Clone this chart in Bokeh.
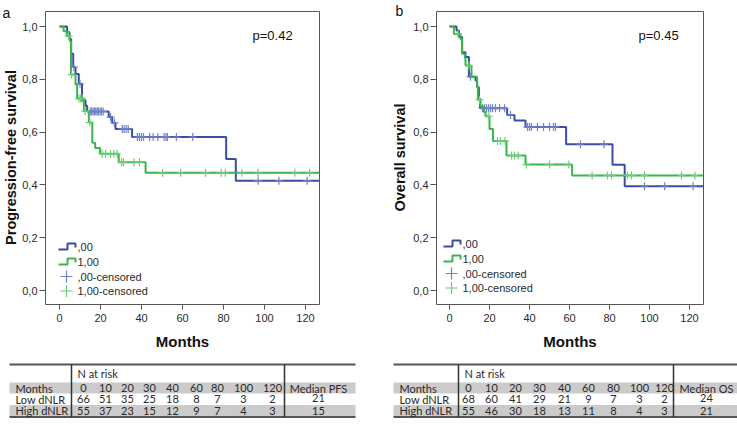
import numpy as np
from bokeh.plotting import figure
from bokeh.layouts import row, column
from bokeh.models import Range1d, FixedTicker, Label
from bokeh.core.properties import value
from bokeh.embed import file_html
from bokeh.resources import INLINE

# ---------------- data ----------------
# Panel a: progression-free survival (Kaplan-Meier steps)
pfs_low_t = [0, 3.7, 4.9, 5.7, 6.7, 7.8, 9.4, 11.0, 12.7, 13.5, 24.0, 25.7, 27.3, 35.4, 81.3, 86.0]
pfs_low_s = [1.0, 0.978, 0.953, 0.897, 0.846, 0.82, 0.783, 0.72, 0.70, 0.678, 0.657, 0.635, 0.612, 0.581, 0.498, 0.416]
pfs_low_cens = [7.0, 10.0, 15.0, 15.7, 16.4, 17.0, 17.7, 18.4, 19.0, 19.8, 20.5, 21.3, 24.9, 26.8,
                30.6, 31.5, 32.5, 33.5, 38.0, 39.0, 40.0, 41.0, 44.0, 45.7, 48.0, 51.0, 52.0, 52.6,
                57.0, 65.0, 96.9, 107.0, 120.8]
pfs_low_end = 127

pfs_high_t = [0, 2.0, 3.5, 5.0, 5.6, 7.8, 8.6, 11.9, 14.3, 16.0, 17.4, 19.8, 28.9, 42.0]
pfs_high_s = [1.0, 0.982, 0.964, 0.945, 0.818, 0.78, 0.727, 0.68, 0.636, 0.56, 0.54, 0.518, 0.486, 0.446]
pfs_high_cens = [4.5, 5.9, 9.5, 10.3, 11.0, 12.5, 14.8, 20.8, 22.5, 24.9, 26.5, 28.1, 30.3, 31.2,
                 36.3, 39.0, 50.3, 59.1, 71.2, 78.9, 80.9, 89.0, 96.9, 114.8, 122.0]
pfs_high_end = 127

# Panel b: overall survival
os_low_t = [0, 3.5, 4.7, 6.3, 8.0, 9.7, 13.0, 13.8, 14.7, 15.3, 28.8, 32.5, 38.0, 58.3, 81.5, 87.6]
os_low_s = [1.0, 0.985, 0.96, 0.902, 0.884, 0.81, 0.795, 0.77, 0.726, 0.69, 0.665, 0.644, 0.619, 0.554, 0.476, 0.395]
os_low_cens = [10.5, 16.5, 17.5, 18.5, 19.5, 20.5, 21.5, 23.0, 25.0, 27.5, 30.5, 39.0, 40.0, 41.0,
               44.0, 47.0, 50.0, 52.0, 53.0, 65.5, 77.2, 97.5, 107.6, 121.8]
os_low_end = 127

os_high_t = [0, 2.2, 5.5, 6.3, 7.7, 8.0, 11.0, 13.8, 14.2, 15.5, 17.2, 18.0, 20.0, 21.7, 28.5, 38.0, 61.3]
os_high_s = [1.0, 0.972, 0.953, 0.897, 0.88, 0.852, 0.81, 0.773, 0.723, 0.697, 0.676, 0.66, 0.612, 0.566, 0.511, 0.477, 0.436]
os_high_cens = [4.3, 9.7, 15.0, 19.7, 24.0, 25.5, 27.8, 31.0, 32.5, 34.3, 38.5, 50.0, 59.7, 71.3,
                79.0, 81.0, 89.0, 91.0, 97.5, 116.0, 122.7]
os_high_end = 127

month_ticks = [0, 20, 40, 60, 80, 100, 120]
surv_ticks = [0.0, 0.2, 0.4, 0.6, 0.8, 1.0]
surv_tick_labels = ["0,0", "0,2", "0,4", "0,6", "0,8", "1,0"]

legend_labels = [",00", "1,00", ",00-censored", "1,00-censored"]

risk_months = ["0", "10", "20", "30", "40", "60", "80", "100", "120"]
pfs_risk_low = [66, 51, 35, 25, 18, 8, 7, 3, 2]
pfs_risk_high = [55, 37, 23, 15, 12, 9, 7, 4, 3]
os_risk_low = [68, 60, 41, 29, 21, 9, 7, 3, 2]
os_risk_high = [55, 46, 30, 18, 13, 11, 8, 4, 3]
row_labels = ["Months", "Low dNLR", "High dNLR"]
pfs_median = ["21", "15"]
os_median = ["24", "21"]

# ---------------- style ----------------
BLUE = "#3a4da6"
GREEN = "#3bb44a"
BLUE_C = "#6f80cc"
GREEN_C = "#6fcc7a"
AX_FONT = "Liberation Sans"
TAB_FONT = "Lato"
TXT = "#2a2a2a"
KM_H = 356  # height of the survival-curve figures (page pixels)


def side_panel(cfg):
    """Narrow strip left of a panel holding the panel letter and the rotated y title."""
    x_start, x_end = cfg["side"]
    p = figure(width=x_end - x_start, height=KM_H, x_range=Range1d(x_start, x_end),
               y_range=Range1d(KM_H, 0), output_backend="svg", toolbar_location=None,
               x_axis_location=None, y_axis_location=None, min_border=0)
    p.xgrid.visible = False
    p.ygrid.visible = False
    p.outline_line_color = None
    lx, ly = cfg["letter_pos"]
    p.text([lx], [ly], text=[cfg["letter"]], text_font=value(AX_FONT), text_font_size="14px",
           text_baseline="middle", text_align="left", text_color="#111111")
    tx, ty = cfg["ylabel_pos"]
    p.text([tx], [ty], text=[cfg["ylabel"]], angle=np.pi / 2, text_font=value(AX_FONT),
           text_font_size="14.5px", text_font_style="bold", text_baseline="middle",
           text_align="center", text_color="#111111")
    return p


def km_panel(cfg):
    FL, FR, FT, FB = cfg["frame"]
    x0, xs, y0, ys = cfg["x0"], cfg["xs"], cfg["y0"], cfg["ys"]
    win_left = cfg["side"][1]
    p = figure(width=cfg["win_right"] - win_left, height=KM_H,
               x_range=Range1d((FL - x0) / xs, (FR - x0) / xs),
               y_range=Range1d((y0 - FB) / ys, (y0 - FT) / ys),
               output_backend="svg", toolbar_location=None,
               min_border_left=FL - win_left, min_border_right=cfg["win_right"] - FR,
               min_border_top=FT, min_border_bottom=KM_H - FB)
    p.xgrid.visible = False
    p.ygrid.visible = False
    p.outline_line_color = "#555555"
    p.outline_line_width = 1
    p.background_fill_color = "white"
    p.border_fill_color = "white"

    for ax in (p.xaxis, p.yaxis):
        ax.axis_line_color = None
        ax.major_tick_in = 0
        ax.minor_tick_line_color = None
        ax.major_tick_line_color = "#555555"
        ax.major_label_text_font = AX_FONT
        ax.major_label_text_font_size = "11px"
        ax.major_label_text_color = TXT
        ax.axis_label_text_font = AX_FONT
        ax.axis_label_text_font_style = "bold"
        ax.axis_label_text_color = "#111111"
    p.xaxis.ticker = FixedTicker(ticks=month_ticks)
    p.xaxis.major_tick_out = 5
    p.xaxis.major_label_standoff = 4
    p.xaxis.axis_label = "Months"
    p.xaxis.axis_label_text_font_size = "15px"
    p.xaxis.axis_label_standoff = 8
    p.yaxis.ticker = FixedTicker(ticks=surv_ticks)
    p.yaxis.major_label_overrides = dict(zip(surv_ticks, surv_tick_labels))
    p.yaxis.major_tick_out = 6
    p.yaxis.major_label_standoff = 2

    # curves
    for (t, s, cens, end, col, ccol) in cfg["series"]:
        xx = list(t) + [end]
        yy = list(s) + [s[-1]]
        p.step(xx, yy, mode="after", line_color=col, line_width=2)
        ta = np.asarray(t)
        sa = np.asarray(s)
        idx = np.searchsorted(ta, np.asarray(cens), side="right") - 1
        p.scatter(cens, sa[idx], marker="cross", size=8, line_color=ccol, line_width=1.2)

    def d(xp, yp):
        return (xp - x0) / xs, (y0 - yp) / ys

    # legend (drawn inside frame)
    lx, rows = cfg["legend_x"], cfg["legend_rows"]
    for i, col in enumerate([BLUE, GREEN]):
        yb = rows[i] + 2.5
        pts = [(lx, yb), (lx + 9, yb), (lx + 9, yb - 6), (lx + 17, yb - 6), (lx + 17, yb - 2)]
        px_ = [d(a, b)[0] for a, b in pts]
        py_ = [d(a, b)[1] for a, b in pts]
        p.line(px_, py_, line_color=col, line_width=2)
    for i, col in enumerate([BLUE_C, GREEN_C]):
        cx, cy = d(lx + 8, rows[2 + i])
        p.scatter([cx], [cy], marker="cross", size=12, line_color=col, line_width=1.2)
    tx = [d(lx + 19, r)[0] for r in rows]
    ty = [d(lx + 19, r)[1] for r in rows]
    p.text(tx, ty, text=legend_labels, text_font=value(AX_FONT), text_font_size="11px",
           text_baseline="middle", text_align="left", text_color=TXT)

    # p-value
    px, py = d(cfg["p_pos"][0], cfg["p_pos"][1])
    p.add_layout(Label(x=px, y=py, text=cfg["ptext"], text_font=AX_FONT, text_font_size="13px",
                       text_baseline="middle", text_align="left", text_color="#111111"))
    return p


def table_panel(cfgs, data):
    p = figure(width=737, height=425 - KM_H, x_range=Range1d(0, 737),
               y_range=Range1d(425, KM_H), output_backend="svg", toolbar_location=None,
               x_axis_location=None, y_axis_location=None, min_border=0)
    p.xgrid.visible = False
    p.ygrid.visible = False
    p.outline_line_color = None
    tf = dict(text_font=value(TAB_FONT), text_font_size="11px", text_baseline="middle", text_color=TXT)
    rows_y = [387.5, 398.8, 410.2]
    for cfg, (low, high, med_label, med) in zip(cfgs, data):
        L, R = cfg["left"], cfg["right"]
        p.quad(left=[L, L], right=[R, R], top=[382, 404.5], bottom=[393, 416],
               fill_color="#cbcbcb", line_color=None)
        p.segment(x0=[L, L], x1=[R, R], y0=[364, 416.5], y1=[364, 416.5],
                  line_color="#555555", line_width=2)
        p.segment(x0=[cfg["div1"], cfg["div2"]], x1=[cfg["div1"], cfg["div2"]], y0=[364, 364],
                  y1=[416.5, 416.5], line_color="#333333", line_width=1.5)
        p.text([L + 6] * 3, rows_y, text=row_labels, text_align="left", **tf)
        p.text([cfg["div1"] + 6], [372.5], text=["N at risk"], text_align="left", **tf)
        cols = cfg["cols"]
        p.text(cols, [rows_y[0]] * len(cols), text=risk_months, text_align="center", **tf)
        p.text(cols, [rows_y[1]] * len(cols), text=[str(v) for v in low], text_align="center", **tf)
        p.text(cols, [rows_y[2]] * len(cols), text=[str(v) for v in high], text_align="center", **tf)
        mc = cfg["med"]
        p.text([mc], [rows_y[0]], text=[med_label], text_align="center", **tf)
        p.text([mc, mc], [rows_y[1] - 1, rows_y[2]], text=med, text_align="center", **tf)
    return p


cfgA = dict(side=(0, 19), win_right=370, frame=(45, 319, 11, 304),
            x0=59, xs=2.05, y0=290, ys=264, ylabel="Progression-free survival",
            ylabel_pos=(10, 157),
            series=[(pfs_low_t, pfs_low_s, pfs_low_cens, pfs_low_end, BLUE, BLUE_C),
                    (pfs_high_t, pfs_high_s, pfs_high_cens, pfs_high_end, GREEN, GREEN_C)],
            legend_x=58, legend_rows=[246.5, 261.5, 276, 290.5],
            ptext="p=0.42", p_pos=(252, 35), letter="a", letter_pos=(2, 12))
cfgB = dict(side=(370, 410), win_right=737, frame=(436, 703, 11, 304),
            x0=449, xs=2.0, y0=290, ys=264, ylabel="Overall survival",
            ylabel_pos=(399, 157),
            series=[(os_low_t, os_low_s, os_low_cens, os_low_end, BLUE, BLUE_C),
                    (os_high_t, os_high_s, os_high_cens, os_high_end, GREEN, GREEN_C)],
            legend_x=443, legend_rows=[243.5, 258.5, 273, 287.5],
            ptext="p=0.45", p_pos=(638, 35), letter="b", letter_pos=(395, 10))

tabA = dict(left=9, right=355, div1=71, div2=284,
            cols=[83, 105, 127, 149, 172, 196, 217, 243, 272], med=318)
tabB = dict(left=393, right=737, div1=458, div2=673,
            cols=[468, 491, 515, 539, 564, 588, 613, 639, 664], med=706)

sideA = side_panel(cfgA)
kmA = km_panel(cfgA)
sideB = side_panel(cfgB)
kmB = km_panel(cfgB)
tables = table_panel([tabA, tabB],
                     [(pfs_risk_low, pfs_risk_high, "Median PFS", pfs_median),
                      (os_risk_low, os_risk_high, "Median OS", os_median)])

layout = column(row(column(sideA), kmA, column(sideB), kmB, spacing=0), tables, spacing=0)

with open("out.html", "w") as f:
    f.write(file_html(layout, INLINE))
